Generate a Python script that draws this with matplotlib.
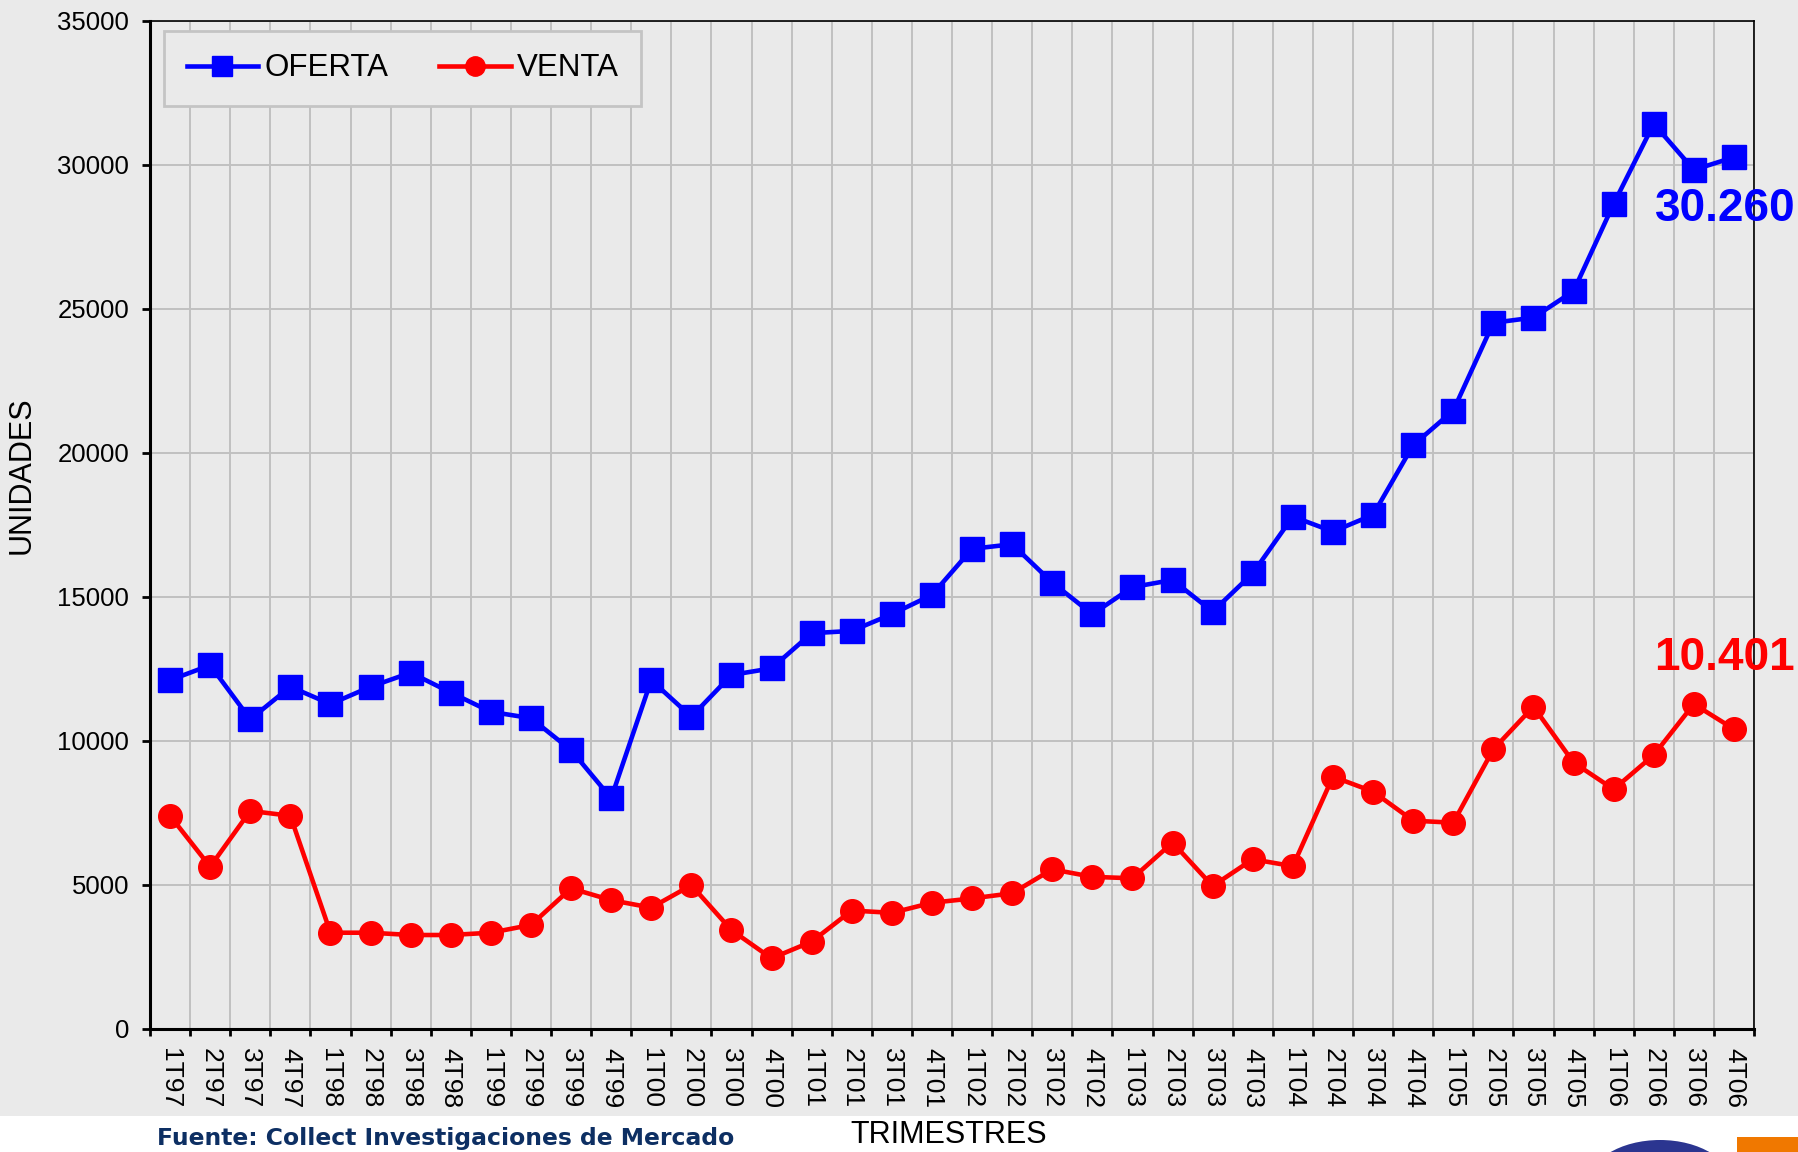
import matplotlib.pyplot as plt
from matplotlib.patches import Rectangle, Ellipse
from matplotlib.ticker import FixedLocator, NullFormatter

# trimestres 1T97 .. 4T06
quarters = []
for yy in ['97', '98', '99', '00', '01', '02', '03', '04', '05', '06']:
    for q in ['1', '2', '3', '4']:
        quarters.append(q + 'T' + yy)

oferta = [12100, 12620, 10740, 11870, 11270, 11870, 12360, 11670,
          11000, 10780, 9670, 8000, 12100, 10830, 12280, 12510,
          13730, 13810, 14390, 15060, 16660, 16820, 15490, 14390,
          15330, 15580, 14480, 15810, 17780, 17260, 17840, 20260,
          21460, 24510, 24690, 25610, 28640, 31420, 29820, 30260]

venta = [7390, 5620, 7560, 7390, 3330, 3330, 3250, 3250,
         3330, 3600, 4870, 4460, 4200, 4980, 3420, 2440,
         3020, 4100, 4020, 4370, 4520, 4700, 5530, 5270,
         5220, 6460, 4950, 5880, 5640, 8750, 8230, 7220,
         7150, 9700, 11180, 9240, 8310, 9500, 11270, 10401]

bg = '#eaeaea'
W, H = 1798, 1152

plt.rcParams['font.family'] = ['Liberation Sans', 'DejaVu Sans']
fig = plt.figure(figsize=(W / 100, H / 100), dpi=100, facecolor='white')
# grey panel above the white footer strip
fig.patches.append(Rectangle((0, 36 / H), 1, 1 - 36 / H, transform=fig.transFigure,
                             facecolor=bg, edgecolor='none', zorder=-2))

ax = fig.add_axes([150 / W, 1 - 1028.6 / H, (1754 - 150) / W, (1028.6 - 20.7) / H])
ax.set_facecolor(bg)

x = list(range(len(quarters)))
ax.plot(x, oferta, color='#0000ff', lw=3.3, marker='s', ms=17.5, mec='#0000ff',
        label='OFERTA', zorder=3, clip_on=False)
ax.plot(x, venta, color='#ff0000', lw=3.3, marker='o', ms=17, mec='#ff0000',
        label='VENTA', zorder=3, clip_on=False)

ax.set_xlim(-0.5, len(quarters) - 0.5)
ax.set_ylim(0, 35000)
ax.set_yticks(range(0, 35001, 5000))

# gridlines / ticks on category boundaries, labels at centres
ax.xaxis.set_major_locator(FixedLocator([i - 0.5 for i in range(len(quarters) + 1)]))
ax.xaxis.set_major_formatter(NullFormatter())
ax.xaxis.set_minor_locator(FixedLocator(x))
ax.set_xticklabels(quarters, minor=True, rotation=-90, fontsize=19)
ax.tick_params(axis='x', which='major', length=5, width=2, color='black', direction='out')
ax.tick_params(axis='x', which='minor', length=0, pad=14)
ax.tick_params(axis='y', length=6, width=2, pad=9, labelsize=18.5)

ax.grid(True, which='major', color='#c0c0c0', lw=1.4)
ax.set_axisbelow(True)

for s in ['left', 'bottom']:
    ax.spines[s].set_linewidth(2.2)
for s in ['top', 'right']:
    ax.spines[s].set_linewidth(1.2)

ax.set_ylabel('UNIDADES', fontsize=22)
ax.yaxis.set_label_coords(-0.0705, 0.549)
fig.text(949 / W, 1 - 1135 / H, 'TRIMESTRES', fontsize=22, ha='center', va='center')
fig.text(157 / W, 1 - 1138 / H, 'Fuente: Collect Investigaciones de Mercado',
         fontsize=16.9, fontweight='bold', color='#0d2f63', family='DejaVu Sans',
         ha='left', va='center')

leg = ax.legend(loc='upper left', bbox_to_anchor=(164 / W, 1 - 31 / H),
                bbox_transform=fig.transFigure, ncol=2, fontsize=22.5, frameon=True,
                fancybox=False, borderaxespad=0, borderpad=0.72, handlelength=2.3,
                handletextpad=0.2, columnspacing=1.6, markerscale=0.82)
leg.get_frame().set_facecolor(bg)
leg.get_frame().set_edgecolor('#c4c4c4')
leg.get_frame().set_linewidth(2)
leg.get_frame().set_alpha(1)

ax.annotate('30.260', xy=(x[-1], oferta[-1]), xytext=(-6, -37), textcoords='offset points',
            ha='center', va='center', fontsize=33, fontweight='bold', color='#0000ff',
            annotation_clip=False, zorder=5)
ax.annotate('10.401', xy=(x[-1], venta[-1]), xytext=(-7, 51), textcoords='offset points',
            ha='center', va='center', fontsize=33, fontweight='bold', color='#ff0000',
            annotation_clip=False, zorder=5)

# logo fragments at bottom right
fig.patches.append(Ellipse((1660 / W, 1 - 1185 / H), 145 / W, 90 / H, transform=fig.transFigure,
                           facecolor='#2b3590', edgecolor='none', zorder=-1))
fig.patches.append(Rectangle((1737 / W, 0), 61 / W, 15 / H, transform=fig.transFigure,
                             facecolor='#f07800', edgecolor='none', zorder=-1))

fig.savefig('out.png', dpi=100, facecolor='white')
